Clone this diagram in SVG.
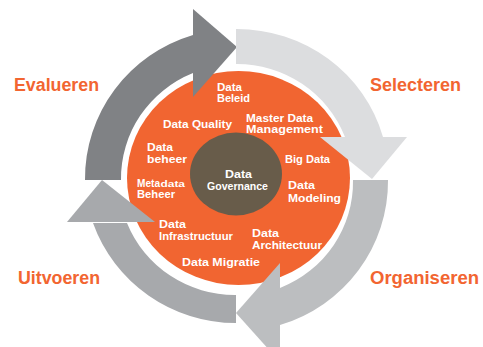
<svg xmlns="http://www.w3.org/2000/svg" width="483" height="347" viewBox="0 0 483 347">
<style>
.t{font-family:"Liberation Sans",Arial,sans-serif;font-weight:bold;font-size:11px;fill:#ffffff}
.s{font-size:8.5px}
.lbl{font-family:"Liberation Sans",Arial,sans-serif;font-weight:bold;font-size:18px;fill:#f26531}
</style>
<rect width="483" height="347" fill="#ffffff"/>
<g id="orange-disk"><ellipse cx="238.5" cy="178" rx="111.5" ry="107" fill="#f16531"/></g>
<g id="connectors">
  <g id="arrow-evalueren" fill="#808285">
    <path d="M85,180 A152,150 0 0 1 193,35 L193,73 A116,114 0 0 0 121,180 Z"/>
    <polygon points="193,9 237,47 193,97"/>
  </g>
  <g id="arrow-selecteren" fill="#dcdddf">
    <path d="M236,29 A152,148 0 0 1 383,137 L345,137 A116,114 0 0 0 236,64 Z"/>
    <polygon points="320,137 407,137 372,179"/>
  </g>
  <g id="arrow-organiseren" fill="#bcbec0">
    <path d="M388,180 A152,150 0 0 1 280,325 L280,288 A116,114 0 0 0 353,180 Z"/>
    <polygon points="280,263 280,362 236,313"/>
  </g>
  <g id="arrow-uitvoeren" fill="#a7a9ac">
    <path d="M236,323 A152,150 0 0 1 93,223 L127,223 A116,114 0 0 0 236,295 Z"/>
    <polygon points="67,222 155,222 102,180"/>
  </g>
</g>
<g id="center"><ellipse cx="236" cy="174" rx="46" ry="41.5" fill="#685c4a"/>
  <text class="t" x="225" y="178" textLength="27" lengthAdjust="spacingAndGlyphs">Data</text>
  <text class="t" x="207" y="190" textLength="61" lengthAdjust="spacingAndGlyphs">Governance</text>
</g>
<g id="data-beleid"><text class="t" x="217" y="91" textLength="25" lengthAdjust="spacingAndGlyphs">Data</text><text class="t" x="217" y="102" textLength="33" lengthAdjust="spacingAndGlyphs">Beleid</text></g>
<g id="data-quality"><text class="t" x="163" y="128" textLength="69" lengthAdjust="spacingAndGlyphs">Data Quality</text></g>
<g id="master-data"><text class="t" x="246" y="122" textLength="67" lengthAdjust="spacingAndGlyphs">Master Data</text><text class="t" x="246" y="133" textLength="77" lengthAdjust="spacingAndGlyphs">Management</text></g>
<g id="data-beheer"><text class="t" x="147" y="151" textLength="26" lengthAdjust="spacingAndGlyphs">Data</text><text class="t" x="147" y="163" textLength="40" lengthAdjust="spacingAndGlyphs">beheer</text></g>
<g id="big-data"><text class="t" x="285" y="163" textLength="45" lengthAdjust="spacingAndGlyphs">Big Data</text></g>
<g id="metadata-beheer"><text class="t" x="137" y="187" textLength="23" lengthAdjust="spacingAndGlyphs">Meta</text><text class="t s" x="160.5" y="187" textLength="24.5" lengthAdjust="spacingAndGlyphs">data</text><text class="t" x="137" y="198" textLength="38" lengthAdjust="spacingAndGlyphs">Beheer</text></g>
<g id="data-modeling"><text class="t" x="288" y="189" textLength="27" lengthAdjust="spacingAndGlyphs">Data</text><text class="t" x="288" y="202" textLength="53" lengthAdjust="spacingAndGlyphs">Modeling</text></g>
<g id="data-infra"><text class="t" x="159" y="228" textLength="27" lengthAdjust="spacingAndGlyphs">Data</text><text class="t" x="159" y="240" textLength="74" lengthAdjust="spacingAndGlyphs">Infrastructuur</text></g>
<g id="data-arch"><text class="t" x="252" y="237" textLength="27" lengthAdjust="spacingAndGlyphs">Data</text><text class="t" x="252" y="249" textLength="70" lengthAdjust="spacingAndGlyphs">Architectuur</text></g>
<g id="data-migratie"><text class="t" x="182" y="266" textLength="78" lengthAdjust="spacingAndGlyphs">Data  Migratie</text></g>
<g id="labels">
  <text class="lbl" x="14" y="91" textLength="85" lengthAdjust="spacingAndGlyphs">Evalueren</text>
  <text class="lbl" x="370" y="91" textLength="91" lengthAdjust="spacingAndGlyphs">Selecteren</text>
  <text class="lbl" x="18" y="284" textLength="82" lengthAdjust="spacingAndGlyphs">Uitvoeren</text>
  <text class="lbl" x="370" y="284" textLength="109" lengthAdjust="spacingAndGlyphs">Organiseren</text>
</g>
</svg>
